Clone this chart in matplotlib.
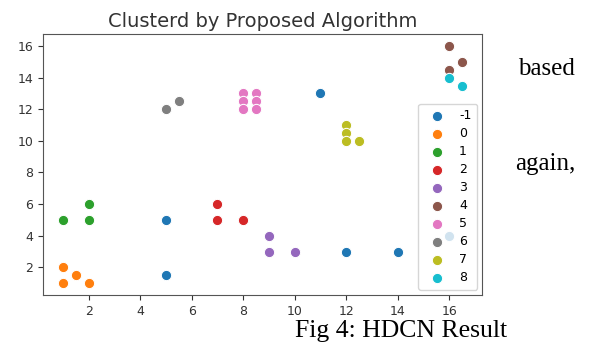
import numpy as np
from matplotlib import pyplot as plt

# cluster labels and points
labels = [-1, 0, 1, 2, 3, 4, 5, 6, 7, 8]
xs = {
    -1: [5, 5, 11, 12, 14, 16],
    0: [1, 1, 1.5, 2],
    1: [1, 2, 2],
    2: [7, 7, 8],
    3: [9, 9, 10],
    4: [16, 16.5, 16],
    5: [8, 8, 8, 8.5, 8.5, 8.5],
    6: [5, 5.5],
    7: [12, 12, 12, 12.5],
    8: [16, 16.5],
}
ys = {
    -1: [5, 1.5, 13, 3, 3, 4],
    0: [2, 1, 1.5, 1],
    1: [5, 6, 5],
    2: [6, 5, 5],
    3: [4, 3, 3],
    4: [16, 15, 14.5],
    5: [13, 12.5, 12, 13, 12.5, 12],
    6: [12, 12.5],
    7: [11, 10.5, 10, 10],
    8: [14, 13.5],
}
colors = plt.get_cmap('tab10').colors

fig = plt.figure(figsize=(5.9, 3.45), dpi=100)
ax = fig.add_axes([0.073, 0.145, 0.744, 0.756])

for i, lab in enumerate(labels):
    ax.scatter(xs[lab], ys[lab], s=55, color=colors[i], edgecolor='white',
               linewidth=0.75, label=str(lab), zorder=2)

ax.set_xticks([2, 4, 6, 8, 10, 12, 14, 16])
ax.set_yticks([2, 4, 6, 8, 10, 12, 14, 16])
ax.tick_params(labelsize=9, colors='#333333')
for sp in ax.spines.values():
    sp.set_color('#555555')
ax.set_title("Clusterd by Proposed Algorithm", fontsize=14, color='#333333',
             pad=5)
ax.legend(loc='lower right', fontsize=9, handletextpad=0.8, borderpad=0.45,
          labelspacing=0.4, handlelength=2.0, borderaxespad=0.4)

# surrounding paper text
fig.text(0.975, 0.80, "based", family='Liberation Serif', fontsize=18,
         ha='right', va='center')
fig.text(0.975, 0.525, "again,", family='Liberation Serif', fontsize=18,
         ha='right', va='center')
fig.text(0.68, 0.042, "Fig 4: HDCN Result", family='Liberation Serif',
         fontsize=18.5, ha='center', va='center')

plt.savefig('out.png')
